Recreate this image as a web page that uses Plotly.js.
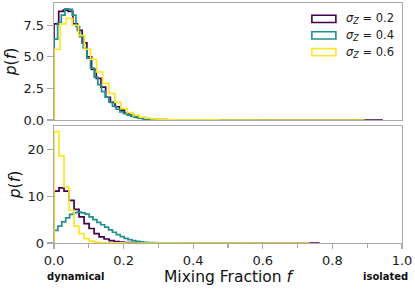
<!DOCTYPE html>
<html>
<head>
<meta charset="utf-8">
<script src="https://cdn.plot.ly/plotly-3.0.1.min.js"></script>
<style>html,body{margin:0;padding:0;background:#fff;}#chart{width:415px;height:289px;}</style>
</head>
<body>
<div id="chart"></div>
<script>
// ---- data ----
const seriesLabels = ["0.2", "0.4", "0.6"];
const seriesColors = ["#440154", "#21918c", "#fde725"];

// top panel (bin widths and densities)
const topBinWidth = [0.0135, 0.0105, 0.0175];
const topPurple = [7.6, 8.6, 8.7, 8.6, 7.6, 7.1, 6.1, 5.0, 4.0, 3.3, 2.6, 1.8, 1.4, 1.05, 0.78, 0.55, 0.38, 0.26, 0.17, 0.11, 0.075, 0.05, 0.033, 0.022, 0.015, 0.01, 0.007, 0.005,
  0.004, 0.003, 0.003, 0.002, 0.002, 0.002, 0.001, 0.001, 0.001, 0.001, 0.001, 0.0008, 0.0008, 0.0006, 0.0006, 0.0005, 0.0005, 0.0004, 0.0004, 0.0003, 0.0003, 0.0003, 0.0002, 0.0002, 0.0002, 0.0002, 0.0001, 0.0001, 0.0001, 0.0001, 0.0001, 0.0001, 0.0001, 0, 0.0001, 0, 0, 0.0001, 0, 0, 0, 0.0001];
const topTeal = [6.4, 7.7, 8.3, 8.8, 8.75, 8.3, 7.4, 6.6, 5.7, 4.9, 4.1, 3.4, 2.8, 2.25, 1.8, 1.42, 1.1, 0.85, 0.65, 0.5, 0.38, 0.28, 0.2, 0.14, 0.1, 0.07, 0.05, 0.035, 0.024, 0.016, 0.011, 0.007, 0.005,
  0.004, 0.003, 0.002, 0.002, 0.001, 0.001, 0.001, 0.0008, 0.0006, 0.0005, 0.0004, 0.0003, 0.0003, 0.0002, 0.0002, 0.0001, 0.0001, 0.0001, 0, 0.0001, 0, 0, 0.0001];
const topYellow = [5.6, 7.6, 8.05, 7.5, 6.7, 5.6, 4.8, 3.8, 2.9, 2.1, 1.4, 0.9, 0.58, 0.36, 0.22, 0.14, 0.09, 0.055, 0.035, 0.02, 0.013, 0.008, 0.005,
  0.004, 0.003, 0.002, 0.002, 0.001, 0.001, 0.001, 0.0008, 0.0006, 0.0005, 0.0004, 0.0003, 0.0003, 0.0002, 0.0002, 0.0002, 0.0001, 0.0001, 0.0001, 0.0001, 0, 0.0001, 0, 0.0001, 0, 0, 0, 0.0001];

// bottom panel
const botBinWidth = [0.0144, 0.0112, 0.0144];
const botPurple = [11.1, 11.8, 11.1, 9.1, 7.2, 5.6, 4.15, 3.1, 2.0, 1.3, 0.85, 0.5, 0.3, 0.17, 0.1, 0.06, 0.035, 0.02, 0.012, 0.008,
  0.005, 0.004, 0.003, 0.002, 0.002, 0.001, 0.001, 0.001, 0.0008, 0.0006, 0.0005, 0.0004, 0.0003, 0.0003, 0.0002, 0.0002, 0.0002, 0.0001, 0.0001, 0.0001, 0.0001, 0.0001, 0, 0.0001, 0, 0, 0.0001, 0, 0, 0, 0, 0, 0.0001];
const botTeal = [2.7, 3.6, 4.5, 5.35, 6.1, 6.5, 6.6, 6.45, 6.15, 5.6, 5.0, 4.4, 3.9, 3.4, 2.8, 2.3, 1.8, 1.37, 1.0, 0.72, 0.5, 0.35, 0.23, 0.15, 0.1, 0.07, 0.05, 0.035, 0.025, 0.017, 0.012, 0.008, 0.005,
  0.004, 0.003, 0.002, 0.002, 0.001, 0.001, 0.0008, 0.0006, 0.0005, 0.0004, 0.0003, 0.0002, 0.0002, 0.0001, 0.0001, 0, 0.0001];
const botYellow = [23.8, 18.6, 12.0, 7.0, 3.6, 2.0, 0.94, 0.42, 0.2, 0.1, 0.05, 0.025, 0.012, 0.006, 0.004, 0.003, 0.002, 0.002, 0.001, 0.001,
  0.001, 0.0008, 0.0006, 0.0005, 0.0004, 0.0003, 0.0003, 0.0002, 0.0002, 0.0002, 0.0001, 0.0001, 0.0001, 0.0001, 0, 0.0001, 0, 0, 0.0001, 0, 0, 0, 0, 0.0001, 0, 0, 0, 0, 0, 0, 0.0001];

const xTickVals = [0, 0.2, 0.4, 0.6, 0.8, 1.0];
const xTickText = ["0.0", "0.2", "0.4", "0.6", "0.8", "1.0"];
const topYTickVals = [0, 2.5, 5.0, 7.5];
const topYTickText = ["0.0", "2.5", "5.0", "7.5"];
const botYTickVals = [0, 10, 20];
const botYTickText = ["0", "10", "20"];

// ---- build step outlines ----
function stepTrace(vals, w, color, xa, ya) {
  const xs = [0], ys = [0];
  for (let i = 0; i < vals.length; i++) { xs.push(i * w); ys.push(vals[i]); }
  xs.push(vals.length * w); ys.push(0);
  return {x: xs, y: ys, xaxis: xa, yaxis: ya, type: "scatter", mode: "lines",
    line: {shape: "hv", color: color, width: 1.7}, showlegend: false, hoverinfo: "skip"};
}

const traces = [
  stepTrace(topPurple, topBinWidth[0], seriesColors[0], "x", "y"),
  stepTrace(topTeal, topBinWidth[1], seriesColors[1], "x", "y"),
  stepTrace(topYellow, topBinWidth[2], seriesColors[2], "x", "y"),
  stepTrace(botPurple, botBinWidth[0], seriesColors[0], "x2", "y2"),
  stepTrace(botTeal, botBinWidth[1], seriesColors[1], "x2", "y2"),
  stepTrace(botYellow, botBinWidth[2], seriesColors[2], "x2", "y2")
];

const F = "DejaVu Sans, sans-serif";
const axColor = "#aaaaaa";
const tickFont = {family: F, size: 13, color: "#1a1a1a"};

// legend (matplotlib-style outlined patches)
const shapes = [], annotations = [];
const legY = [0.934, 0.865, 0.795];
for (let i = 0; i < 3; i++) {
  shapes.push({type: "rect", xref: "paper", yref: "paper", x0: 0.741, x1: 0.810,
    y0: legY[i] - 0.015, y1: legY[i] + 0.015, line: {color: seriesColors[i], width: 1.6}, fillcolor: "rgba(0,0,0,0)"});
  annotations.push({xref: "paper", yref: "paper", x: 0.833, y: legY[i], xanchor: "left", yanchor: "middle",
    text: "<i>σ</i><sub><i>Z</i></sub> = " + seriesLabels[i], showarrow: false, font: {family: F, size: 11.5, color: "#1a1a1a"}});
}
annotations.push({xref: "paper", yref: "paper", x: -0.027, y: -0.138, xanchor: "left", yanchor: "middle",
  text: "<b>dynamical</b>", showarrow: false, font: {family: F, size: 10, color: "#111"}});
annotations.push({xref: "paper", yref: "paper", x: 1.024, y: -0.138, xanchor: "right", yanchor: "middle",
  text: "<b>isolated</b>", showarrow: false, font: {family: F, size: 10, color: "#111"}});

const common = {showline: true, mirror: true, linecolor: axColor, linewidth: 1.3, showgrid: false, zeroline: false};

const layout = {
  width: 415, height: 289,
  margin: {l: 54, r: 13, t: 3, b: 46},
  paper_bgcolor: "#fff", plot_bgcolor: "#fff",
  font: {family: F},
  showlegend: false,
  xaxis: Object.assign({}, common, {domain: [0, 1], range: [0, 1], anchor: "y", showticklabels: false, ticks: "", matches: "x2"}),
  yaxis: Object.assign({}, common, {domain: [0.5125, 1], range: [0, 9.26], anchor: "x",
    tickmode: "array", tickvals: topYTickVals, ticktext: topYTickText, ticks: "outside", ticklen: 6, tickwidth: 1.3, tickcolor: axColor,
    tickfont: tickFont, title: {text: "<i>p</i>(<i>f</i>)", font: {family: F, size: 15.5, color: "#111"}, standoff: 3}}),
  xaxis2: Object.assign({}, common, {domain: [0, 1], range: [0, 1], anchor: "y2",
    tickmode: "array", tickvals: xTickVals, ticktext: xTickText, ticks: "outside", ticklen: 5, tickwidth: 1.3, tickcolor: axColor,
    minor: {ticks: "outside", ticklen: 4, tickwidth: 1.1, tickcolor: axColor, dtick: 0.1, tick0: 0, showgrid: false},
    tickfont: tickFont, title: {text: "Mixing Fraction <i>f</i>", font: {family: F, size: 15.5, color: "#111"}, standoff: 0}}),
  yaxis2: Object.assign({}, common, {domain: [0, 0.4875], range: [0, 25], anchor: "x2",
    tickmode: "array", tickvals: botYTickVals, ticktext: botYTickText, ticks: "outside", ticklen: 6, tickwidth: 1.3, tickcolor: axColor,
    tickfont: tickFont, title: {text: "<i>p</i>(<i>f</i>)", font: {family: F, size: 15.5, color: "#111"}, standoff: 3}}),
  shapes: shapes,
  annotations: annotations
};

Plotly.newPlot("chart", traces, layout, {staticPlot: true, displayModeBar: false});
</script>
</body>
</html>
